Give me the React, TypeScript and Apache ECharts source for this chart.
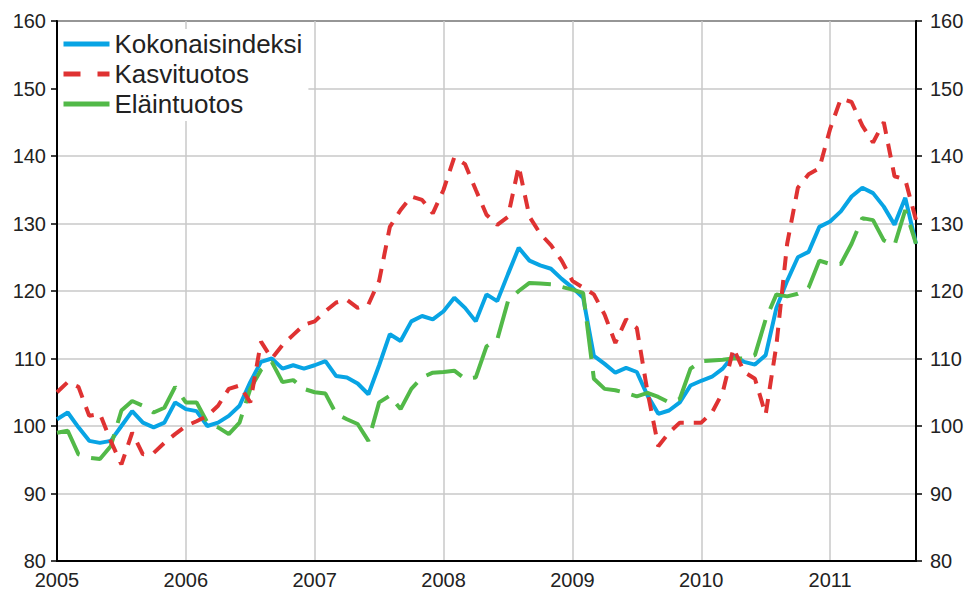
import React, { useEffect, useRef } from "react";
import * as echarts from "echarts";

const startYear = 2005;
const monthCount = 81;
const months: string[] = Array.from({ length: monthCount }, (_, i) => {
  const y = startYear + Math.floor(i / 12);
  const m = (i % 12) + 1;
  return `${y}-${m < 10 ? "0" + m : m}`;
});

const seriesNames = ["Kokonaisindeksi", "Kasvituotos", "Eläintuotos"];

const kokonaisindeksi = [
  101, 102, 99.8, 97.8, 97.5, 97.8, 100, 102.2, 100.5, 99.8, 100.5, 103.5,
  102.5, 102.2, 100, 100.5, 101.5, 103, 106.5, 109.5, 110, 108.5, 109, 108.5,
  109, 109.6, 107.4, 107.2, 106.3, 104.7, 109, 113.6, 112.6, 115.5, 116.3, 115.8,
  117, 119, 117.5, 115.5, 119.5, 118.5, 122.5, 126.4, 124.5, 123.8, 123.3, 121.8,
  120.5, 119, 110.4, 109.2, 107.9, 108.6, 108, 104.5, 101.8, 102.3, 103.5, 106,
  106.7, 107.3, 108.5, 110.5, 109.5, 109.1, 110.5, 117.5, 121.5, 125, 125.8, 129.5,
  130.3, 131.8, 134, 135.3, 134.5, 132.5, 129.8, 133.8, 127,
];

const kasvituotos = [
  105, 106.5, 105.8, 101.5, 101.8, 97.8, 94.3, 99, 95.8, 96, 97.5, 98.8,
  100, 100.7, 101.5, 103, 105.5, 106, 103.5, 112.5, 110, 112, 113.5, 115,
  115.5, 117, 118.3, 118.7, 117.5, 118, 121.5, 129.5, 132, 134, 133.5, 131.5,
  135, 139.8, 138.8, 135, 131.3, 129.8, 131, 138.5, 131, 128.5, 126.8, 124.5,
  121.5, 120.5, 119.5, 116.5, 112.3, 115.8, 114.5, 105, 97, 99, 100.5, 100.5,
  100.5, 102, 105, 111.5, 108, 107, 101.7, 112, 127, 135.3, 137.3, 138.2,
  144, 148.5, 148, 144.5, 142, 145, 137, 136.5, 130.5,
];

const elaintuotos = [
  99, 99.3, 95.8, 95.3, 95.1, 97, 102.3, 103.7, 103, 102, 102.7, 105.8,
  103.5, 103.5, 100.5, 99.8, 98.8, 100.5, 105.5, 108.3, 109.5, 106.5, 106.8, 105.5,
  105, 104.8, 101.8, 101, 100.3, 97.8, 103.5, 104.5, 102.5, 105.5, 107.2, 107.9,
  108, 108.2, 107, 107.2, 111.8, 112.8, 118.5, 120, 121.2, 121.1, 121, 120.6,
  120.2, 119.7, 107, 105.5, 105.3, 104.9, 104.4, 104.9, 104.3, 103.5, 104, 108.5,
  109.6, 109.7, 109.8, 110, 110, 110.5, 115.8, 119.5, 119.2, 119.6, 120.5, 124.5,
  124, 124, 127, 130.8, 130.5, 127.5, 126.8, 132, 127,
];

const FONT = "'Liberation Sans', Arial, sans-serif";
const BLUE = "#08a4e4";
const RED = "#df3232";
const GREEN = "#52b948";

export default function App() {
  const ref = useRef<HTMLDivElement>(null);

  useEffect(() => {
    if (!ref.current) return;
    const chart = echarts.init(ref.current, undefined, { renderer: "svg" });
    const yAxisBase = {
      type: "value" as const,
      min: 80,
      max: 160,
      interval: 10,
      axisLine: { show: true, lineStyle: { color: "#000", width: 2 } },
      axisTick: { show: true, inside: false, length: 6, lineStyle: { color: "#000", width: 1.5 } },
      axisLabel: { fontSize: 20, color: "#222", fontFamily: FONT },
    };
    chart.setOption({
      animation: false,
      backgroundColor: "#fff",
      grid: {
        left: 57,
        right: 52,
        top: 21,
        bottom: 28,
        show: true,
        borderColor: "#000",
        borderWidth: 2,
      },
      legend: {
        orient: "vertical",
        left: 58,
        top: 29,
        padding: [2, 6, 4, 3],
        backgroundColor: "#fff",
        itemWidth: 46,
        itemHeight: 25,
        itemGap: 4,
        itemStyle: { opacity: 0, borderWidth: 0 },
        lineStyle: { width: 5 },
        textStyle: { fontSize: 26, color: "#222", fontFamily: FONT, lineHeight: 25 },
        data: [
          { name: seriesNames[0], lineStyle: { width: 5, color: BLUE, type: "solid" } },
          { name: seriesNames[1], lineStyle: { width: 5, color: RED, type: [17, 17] } },
          { name: seriesNames[2], lineStyle: { width: 5, color: GREEN, type: "solid" } },
        ],
      },
      xAxis: {
        type: "category",
        data: months,
        boundaryGap: false,
        axisLine: { lineStyle: { color: "#000", width: 2 } },
        axisTick: { show: false },
        axisLabel: {
          interval: (i: number) => i % 12 === 0,
          formatter: (v: string) => (v.slice(5) === "01" ? v.slice(0, 4) : ""),
          fontSize: 20,
          color: "#222",
          fontFamily: FONT,
          margin: 9,
        },
        splitLine: {
          show: true,
          interval: (i: number) => i % 12 === 0,
          lineStyle: { color: "#c8c8c8", width: 1.5 },
        },
      },
      yAxis: [
        {
          ...yAxisBase,
          position: "left",
          axisLabel: { ...yAxisBase.axisLabel, margin: 11 },
          splitLine: { show: true, lineStyle: { color: "#c8c8c8", width: 1.5 } },
        },
        {
          ...yAxisBase,
          position: "right",
          axisLabel: { ...yAxisBase.axisLabel, margin: 14 },
          splitLine: { show: false },
        },
      ],
      series: [
        {
          name: seriesNames[0],
          type: "line",
          data: kokonaisindeksi,
          symbol: "none",
          lineStyle: { color: BLUE, width: 4 },
          itemStyle: { color: BLUE },
        },
        {
          name: seriesNames[2],
          type: "line",
          data: elaintuotos,
          symbol: "none",
          lineStyle: { color: GREEN, width: 4, type: [38, 12] },
          itemStyle: { color: GREEN },
        },
        {
          name: seriesNames[1],
          type: "line",
          data: kasvituotos,
          symbol: "none",
          lineStyle: { color: RED, width: 4, type: [14, 10] },
          itemStyle: { color: RED },
        },
      ],
    });
    return () => chart.dispose();
  }, []);

  return (
    <div
      ref={ref}
      style={{ position: "fixed", left: 0, top: 0, width: 968, height: 590, background: "#fff" }}
    />
  );
}
